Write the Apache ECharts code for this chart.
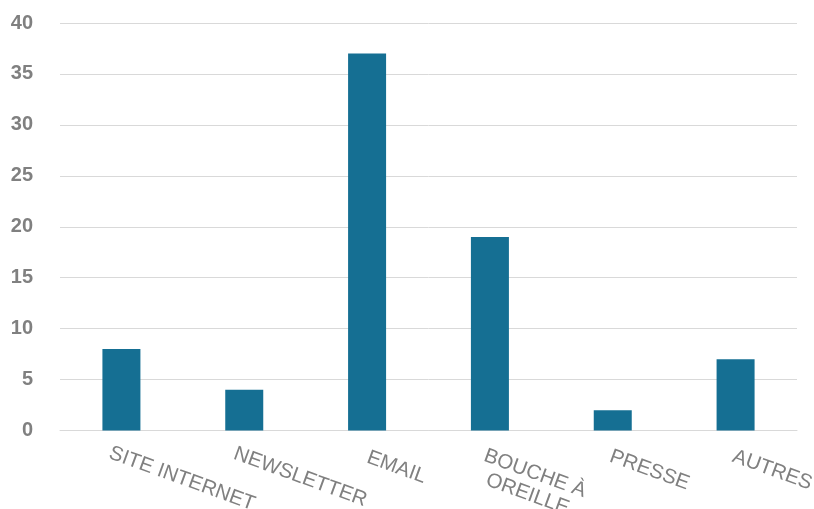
<!DOCTYPE html>
<html>
<head>
<meta charset="utf-8">
<script src="https://cdn.jsdelivr.net/npm/echarts@6/dist/echarts.min.js"></script>
<style>html,body{margin:0;padding:0;background:#fff}#c{width:814px;height:509px}</style>
</head>
<body>
<div id="c"></div>
<script>
const categories = ['SITE INTERNET', 'NEWSLETTER', 'EMAIL', 'BOUCHE À OREILLE', 'PRESSE', 'AUTRES'];
const values = [8, 4, 37, 19, 2, 7];
const yTicks = { min: 0, max: 40, interval: 5 };

const FONT = 'Liberation Sans, Arial, sans-serif';
const XSIZE = 20.5;
const ctx = document.createElement('canvas').getContext('2d');
ctx.font = XSIZE + 'px ' + FONT;
function wrap(v) {
  if (v.length > 14) {
    const i = v.lastIndexOf(' ');
    return [v.slice(0, i), v.slice(i + 1)];
  }
  return [v];
}
// Excel-like placement: longer labels start a little left of their tick
const xData = categories.map(function (c) {
  const lines = wrap(c);
  const w = ctx.measureText(lines[0]).width;
  return { value: c, textStyle: { verticalAlign: 'top', align: 'left', padding: [0, 0, 0, 5 - 0.14 * (w - 57)] } };
});
const wrapW = Math.ceil(ctx.measureText(wrap(categories[3])[0]).width);

const chart = echarts.init(document.getElementById('c'), null, { renderer: 'canvas' });
chart.setOption({
  animation: false,
  backgroundColor: '#ffffff',
  grid: { left: 60, right: 17, top: 23, bottom: 78.5, containLabel: false, outerBoundsMode: 'none' },
  xAxis: {
    type: 'category',
    data: xData,
    axisLine: { lineStyle: { color: '#d9d9d9', width: 1 } },
    axisTick: { show: false },
    axisLabel: {
      interval: 0,
      rotate: -20,
      margin: 15,
      verticalAlign: 'top',
      color: '#808080',
      fontFamily: FONT,
      fontSize: XSIZE,
      formatter: function (v) {
        const lines = wrap(v);
        if (lines.length > 1) {
          return lines.map(function (l) { return '{m|' + l + '}'; }).join('\n');
        }
        return v;
      },
      rich: {
        m: { width: wrapW, align: 'center', color: '#808080', fontSize: XSIZE, fontFamily: FONT, lineHeight: 22 }
      }
    }
  },
  yAxis: {
    type: 'value',
    min: yTicks.min, max: yTicks.max, interval: yTicks.interval,
    axisLine: { show: false },
    axisTick: { show: false },
    splitLine: { lineStyle: { color: '#d9d9d9', width: 1 } },
    axisLabel: {
      margin: 27,
      color: '#808080',
      fontWeight: 'bold',
      fontFamily: FONT,
      fontSize: 20
    }
  },
  series: [{
    type: 'bar',
    data: values,
    barWidth: 38,
    itemStyle: { color: '#156f93' }
  }]
});
</script>
</body>
</html>
